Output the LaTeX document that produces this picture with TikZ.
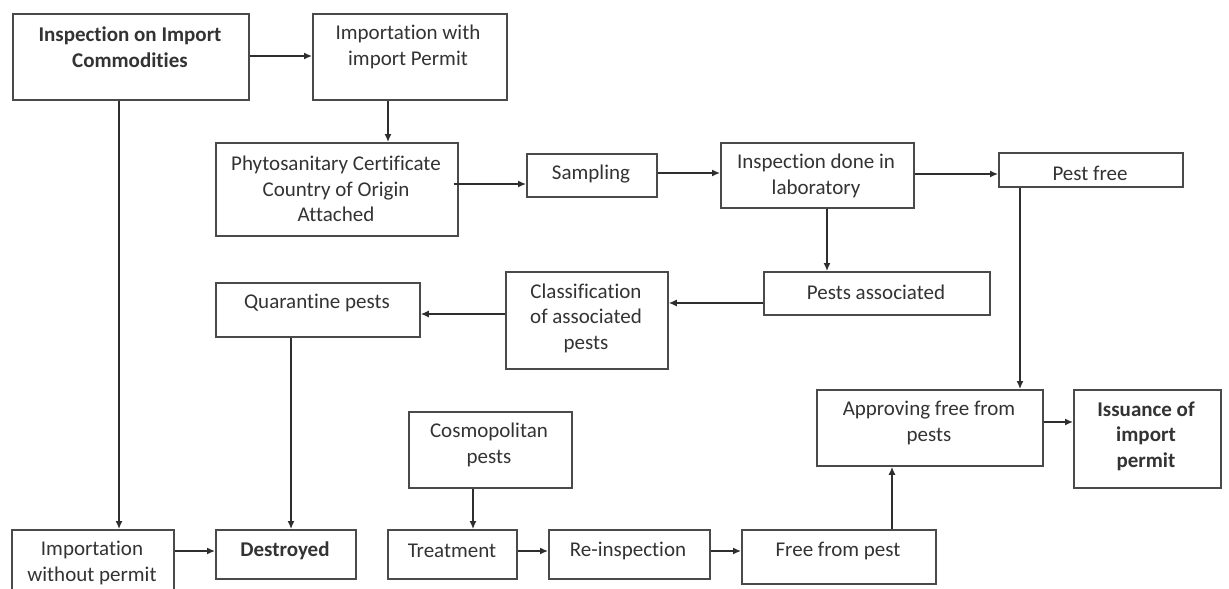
\documentclass[tikz,border=0pt]{standalone}
\usepackage{fontspec}
\setmainfont{Carlito}[RawFeature={-liga;-dlig;-clig}]
\usetikzlibrary{arrows.meta}
\definecolor{boxline}{HTML}{4A4A4A}
\definecolor{conline}{HTML}{2E2E2E}
\definecolor{txt}{HTML}{333333}
\tikzset{
  boxnode/.style={draw=boxline, line width=1.8pt, fill=none, anchor=north west, inner sep=0pt},
  lbl/.style={text=txt, align=center, font=\fontsize{21}{25.5}\selectfont, inner sep=0pt, anchor=center},
  lblb/.style={lbl, font=\fontsize{21}{25.5}\selectfont\bfseries},
  arr/.style={draw=conline, line width=1.4pt, -{Latex[length=8pt,width=7pt]}},
}
\begin{document}
\begin{tikzpicture}[x=1pt,y=-1pt]
\fill[white] (0,0) rectangle (1229,589);
\useasboundingbox (0,0) rectangle (1229,589);
% boxes
\node[boxnode, minimum width=236, minimum height=86] (b1) at (12,13) {};
\node[boxnode, minimum width=194, minimum height=86] (b2) at (312,13) {};
\node[boxnode, minimum width=242, minimum height=93] (phy) at (215,142) {};
\node[boxnode, minimum width=130, minimum height=43] (samp) at (526,153) {};
\node[boxnode, minimum width=193, minimum height=65] (lab) at (720,142) {};
\node[boxnode, minimum width=184, minimum height=34] (pf) at (998,152) {};
\node[boxnode, minimum width=226, minimum height=43] (pa) at (763,271) {};
\node[boxnode, minimum width=162, minimum height=97] (cls) at (505,271) {};
\node[boxnode, minimum width=204, minimum height=54] (qp) at (215,282) {};
\node[boxnode, minimum width=163, minimum height=76] (cos) at (408,411) {};
\node[boxnode, minimum width=226, minimum height=76] (app) at (816,389) {};
\node[boxnode, minimum width=147, minimum height=98] (iss) at (1073,389) {};
\node[boxnode, minimum width=162, minimum height=80] (imp) at (11,529) {};
\node[boxnode, minimum width=140, minimum height=49] (des) at (215,529) {};
\node[boxnode, minimum width=129, minimum height=49] (trt) at (387,529) {};
\node[boxnode, minimum width=161, minimum height=49] (rei) at (548,529) {};
\node[boxnode, minimum width=194, minimum height=54] (ffp) at (741,529) {};
% texts
\node[lblb] (t1) at (130,47) {Inspection on Import\\Commodities};
\node[lbl] (t2) at (408,47) {Importation with\\import Permit};
\node[lbl] (tphy) at (336,189) {Phytosanitary Certificate\\Country of Origin\\Attached};
\node[lbl] (tsamp) at (591,174) {Sampling};
\node[lbl] (tlab) at (816,176) {Inspection done in\\laboratory};
\node[lbl] (tpf) at (1090,173) {Pest free};
\node[lbl] (tpa) at (876,292) {Pests associated};
\node[lbl] (tcls) at (586,318) {Classification\\of associated\\pests};
\node[lbl] (tqp) at (317,303) {Quarantine pests};
\node[lbl] (tcos) at (489,445) {Cosmopolitan\\pests};
\node[lbl] (tapp) at (929,423) {Approving free from\\pests};
\node[lblb] (tiss) at (1146,436) {Issuance of\\import\\permit};
\node[lbl] (timp) at (92,563) {Importation\\without permit};
\node[lblb] (tdes) at (285,551) {Destroyed};
\node[lbl] (ttrt) at (452,551) {Treatment};
\node[lbl] (trei) at (628,551) {Re-inspection};
\node[lbl] (tffp) at (838,551) {Free from pest};
% connectors
\draw[arr] (b1.east |- 0,56) -- (b2.west |- 0,56);
\draw[arr] (b2.south -| 388,0) -- (phy.north -| 388,0);
\draw[arr] (b1.south -| 119,0) -- (imp.north -| 119,0);
\draw[arr] (phy.east |- 0,184) ++(-5,0) -- (samp.west |- 0,184);
\draw[arr] (samp.east |- 0,173) -- (lab.west |- 0,173);
\draw[arr] (lab.east |- 0,174) -- (pf.west |- 0,174);
\draw[arr] (lab.south -| 827,0) -- (pa.north -| 827,0);
\draw[arr] (pa.west |- 0,303) -- (cls.east |- 0,303);
\draw[arr] (cls.west |- 0,314) -- (qp.east |- 0,314);
\draw[arr] (qp.south -| 291,0) -- (des.north -| 291,0);
\draw[arr] (imp.east |- 0,551) -- (des.west |- 0,551);
\draw[arr] (cos.south -| 473,0) -- (trt.north -| 473,0);
\draw[arr] (trt.east |- 0,551) -- (rei.west |- 0,551);
\draw[arr] (rei.east |- 0,551) -- (ffp.west |- 0,551);
\draw[arr] (ffp.north -| 892,0) -- (app.south -| 892,0);
\draw[arr] (pf.south -| 1020,0) -- (app.north -| 1020,0);
\draw[arr] (app.east |- 0,422) -- (iss.west |- 0,422);
\end{tikzpicture}
\end{document}
